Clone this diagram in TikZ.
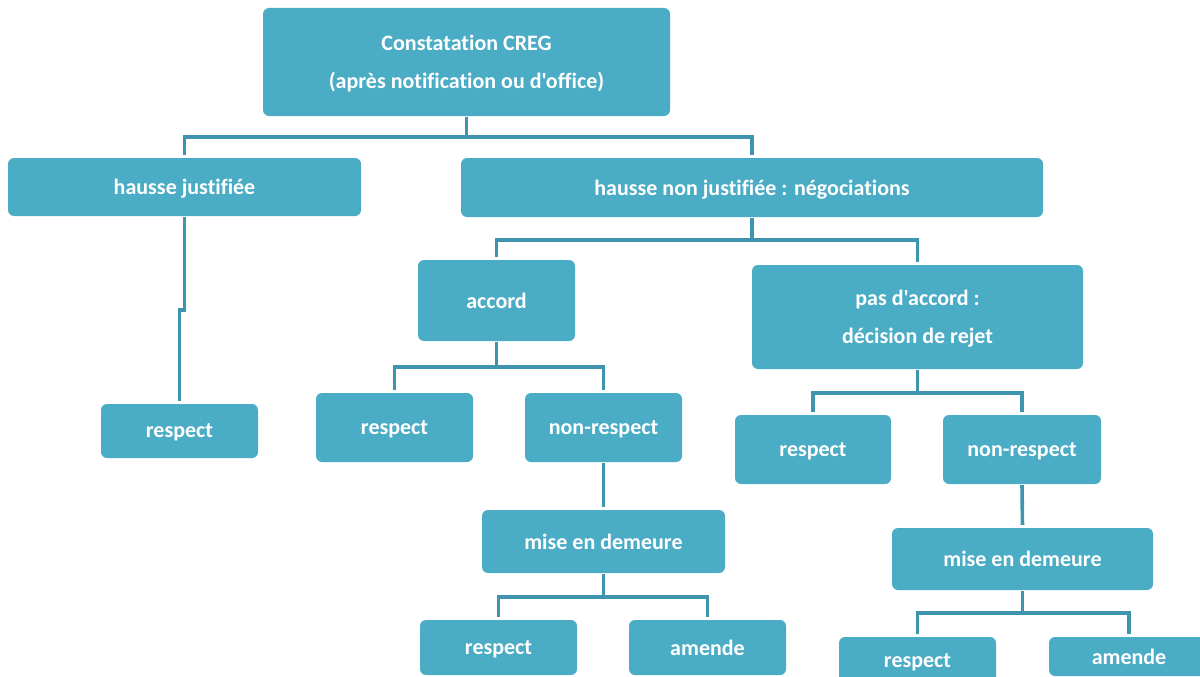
\documentclass[tikz,border=0pt]{standalone}
\usepackage{fontspec}
\setmainfont{Carlito}[Ligatures={TeXOff,CommonOff}]
\definecolor{boxfill}{HTML}{4BACC6}
\definecolor{linecol}{HTML}{3F95AD}
\begin{document}
\begin{tikzpicture}[x=1pt,y=-1pt,
  bx/.style={fill=boxfill, rounded corners=6pt, inner sep=0pt, text=white, text depth=0pt,
    font=\fontsize{22}{38}\selectfont\bfseries, align=center},
  conn/.style={draw=linecol, line width=3.6pt, shorten <=1pt, shorten >=3pt}]
\useasboundingbox (0,0) rectangle (1200,677);
\begin{scope}
\clip (0,0) rectangle (1200,677);
\node[bx, minimum width=407pt, minimum height=108pt] (top) at (466.5,62) {Constatation CREG\\(après notification ou d'office)};
\node[bx, minimum width=353pt, minimum height=58pt] (hj) at (184.5,187) {hausse justifiée};
\node[bx, minimum width=582pt, minimum height=59pt] (hnj) at (752,187.5) {hausse non justifiée : négociations};
\node[bx, minimum width=157pt, minimum height=81pt] (acc) at (496.5,300.5) {accord};
\node[bx, minimum width=331pt, minimum height=104pt] (pas) at (917.5,317) {pas d'accord :\\décision de rejet};
\node[bx, minimum width=157pt, minimum height=54pt] (r0) at (179.5,431) {respect};
\node[bx, minimum width=157pt, minimum height=69pt] (r1) at (394.5,427.5) {respect};
\node[bx, minimum width=157pt, minimum height=69pt] (nr1) at (603.5,427.5) {non-respect};
\node[bx, minimum width=156pt, minimum height=69pt] (r2) at (813,449.5) {respect};
\node[bx, minimum width=158pt, minimum height=69pt] (nr2) at (1022,449.5) {non-respect};
\node[bx, minimum width=243pt, minimum height=63pt] (m1) at (603.5,541.5) {mise en demeure};
\node[bx, minimum width=261pt, minimum height=62pt] (m2) at (1022.5,559) {mise en demeure};
\node[bx, minimum width=157pt, minimum height=55pt] (r3) at (498.5,647.5) {respect};
\node[bx, minimum width=157pt, minimum height=55pt] (a1) at (707.5,647.5) {amende};
\node[bx, minimum width=157pt, minimum height=48pt] (r4) at (917.5,661) {respect};
\node[bx, minimum width=160pt, minimum height=39pt] (a2) at (1129,656.5) {amende};
\end{scope}
\coordinate (j0) at (466.5,137);
\draw[conn] (top.south) -- (j0) -| (hj.north);
\draw[conn] (j0) -| (hnj.north);
\draw[conn] (hj.south) -- ++(0,94) -| (r0.north);
\coordinate (j1) at (752,240);
\draw[conn] (hnj.south) -- (j1) -| (acc.north);
\draw[conn] (j1) -| (pas.north);
\coordinate (j2) at (496.5,367);
\draw[conn] (acc.south) -- (j2) -| (r1.north);
\draw[conn] (j2) -| (nr1.north);
\coordinate (j3) at (917.5,393);
\draw[conn] (pas.south) -- (j3) -| (r2.north);
\draw[conn] (j3) -| (nr2.north);
\draw[conn] (nr1.south) -- (m1.north);
\draw[conn] (nr2.south) -- (m2.north);
\coordinate (j4) at (603.5,597);
\draw[conn] (m1.south) -- (j4) -| (r3.north);
\draw[conn] (j4) -| (a1.north);
\coordinate (j5) at (1022.5,613);
\draw[conn] (m2.south) -- (j5) -| (r4.north);
\draw[conn] (j5) -| (a2.north);
\end{tikzpicture}
\end{document}
